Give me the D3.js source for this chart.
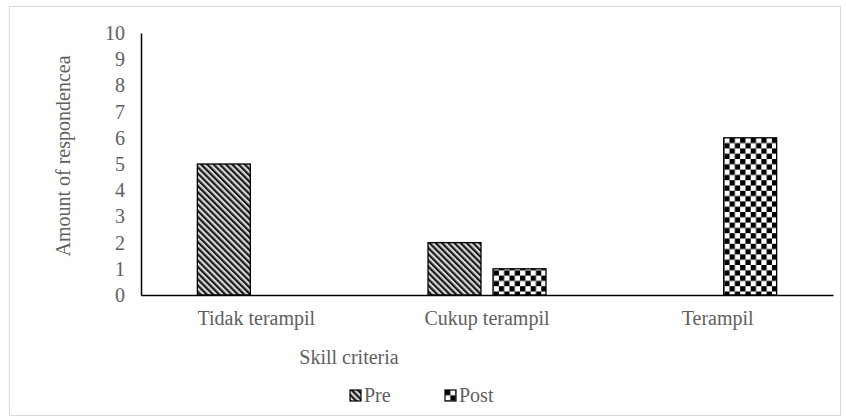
<!DOCTYPE html>
<html><head><meta charset="utf-8">
<script src="https://cdn.jsdelivr.net/npm/d3@7"></script>
<style>body{margin:0;background:#fff}svg{display:block}svg text{font-family:"Liberation Serif","Times New Roman",serif}</style>
</head><body>
<svg id="c" width="846" height="419"></svg>
<script>
const categories = ["Tidak terampil", "Cukup terampil", "Terampil"];
const seriesNames = ["Pre", "Post"];
const preValues = [5, 2, 0];
const postValues = [0, 1, 6];
const yTicks = [0,1,2,3,4,5,6,7,8,9,10];

const svg = d3.select("#c");
const W = 846, H = 419;
const m = {left: 141, right: 13, top: 33, bottom: 124};
const font = "Liberation Serif";
const grey = "#606060";
const fs = 20;

svg.append("rect").attr("x", 9.5).attr("y", 6.5).attr("width", 831).attr("height", 409)
  .attr("fill", "#fff").attr("stroke", "#d9d9d9").attr("stroke-width", 1);

const defs = svg.append("defs");
const stripe = defs.append("pattern").attr("id", "pStripe").attr("patternUnits", "userSpaceOnUse")
  .attr("width", 4.4).attr("height", 4.4).attr("patternTransform", "rotate(-45)");
stripe.append("rect").attr("width", 4.4).attr("height", 4.4).attr("fill", "#d8d8d8");
stripe.append("rect").attr("width", 2.2).attr("height", 4.4).attr("fill", "#1a1a1a");

const checker = defs.append("pattern").attr("id", "pCheck").attr("patternUnits", "userSpaceOnUse")
  .attr("width", 10.6).attr("height", 10.6).attr("x", 0).attr("y", 0);
checker.append("rect").attr("width", 10.6).attr("height", 10.6).attr("fill", "#fff");
checker.append("rect").attr("width", 5.3).attr("height", 5.3).attr("fill", "#000");
checker.append("rect").attr("x", 5.3).attr("y", 5.3).attr("width", 5.3).attr("height", 5.3).attr("fill", "#000");

const fills = {Pre: "url(#pStripe)", Post: "url(#pCheck)"};

const x0 = d3.scaleBand().domain(categories).range([m.left, W - m.right]).paddingInner(0).paddingOuter(0);
const x1 = d3.scaleBand().domain(seriesNames).range([0, x0.bandwidth()]).paddingInner(0.185).paddingOuter(0.867);
const y = d3.scaleLinear().domain([0, 10]).range([H - m.bottom, m.top]);

const data = categories.map((c, i) => ({cat: c, vals: [{s: "Pre", v: preValues[i]}, {s: "Post", v: postValues[i]}]}));

const g = svg.append("g");
g.selectAll("g.cat").data(data).join("g").attr("class", "cat")
  .attr("transform", d => `translate(${x0(d.cat)},0)`)
  .selectAll("rect").data(d => d.vals.filter(v => v.v > 0)).join("rect")
  .attr("x", d => x1(d.s)).attr("width", x1.bandwidth())
  .attr("y", d => y(d.v)).attr("height", d => y(0) - y(d.v))
  .attr("fill", d => fills[d.s]).attr("stroke", "#000").attr("stroke-width", 1.3);

// axes
const yAxis = d3.axisLeft(y).tickValues(yTicks).tickSize(0).tickPadding(16).tickFormat(d3.format("d"));
const ya = svg.append("g").attr("transform", `translate(${m.left},0)`).call(yAxis);
ya.attr("font-family", font).attr("font-size", fs);
ya.select(".domain").attr("stroke", "#000").attr("stroke-width", 1.5);
ya.selectAll("text").attr("fill", grey);

const xAxis = d3.axisBottom(x0).tickSize(0).tickPadding(30);
const xa = svg.append("g").attr("transform", `translate(0,${y(0)})`).call(xAxis);
xa.attr("font-family", font).attr("font-size", fs);
xa.select(".domain").attr("stroke", "#000").attr("stroke-width", 1.5);
xa.selectAll("text").attr("fill", grey).attr("dy", null);

svg.append("text").attr("transform", `translate(70,${(m.top + y(0))/2 - 8}) rotate(-90)`)
  .attr("text-anchor", "middle").attr("font-size", fs).attr("fill", grey)
  .text("Amount of respondencea");

svg.append("text").attr("x", 349).attr("y", 364).attr("text-anchor", "middle")
  .attr("font-size", fs).attr("fill", grey).text("Skill criteria");

// legend
const legX = [350, 445];
const leg = svg.append("g");
seriesNames.forEach((s, i) => {
  const lg = leg.append("g").attr("transform", `translate(${legX[i]},390)`);
  lg.append("rect").attr("width", 11).attr("height", 11).attr("fill", fills[s]).attr("stroke", "#000").attr("stroke-width", 1.2);
  lg.append("text").attr("x", 14).attr("y", 12).attr("font-size", fs).attr("fill", grey).text(s);
});
</script>
</body></html>
